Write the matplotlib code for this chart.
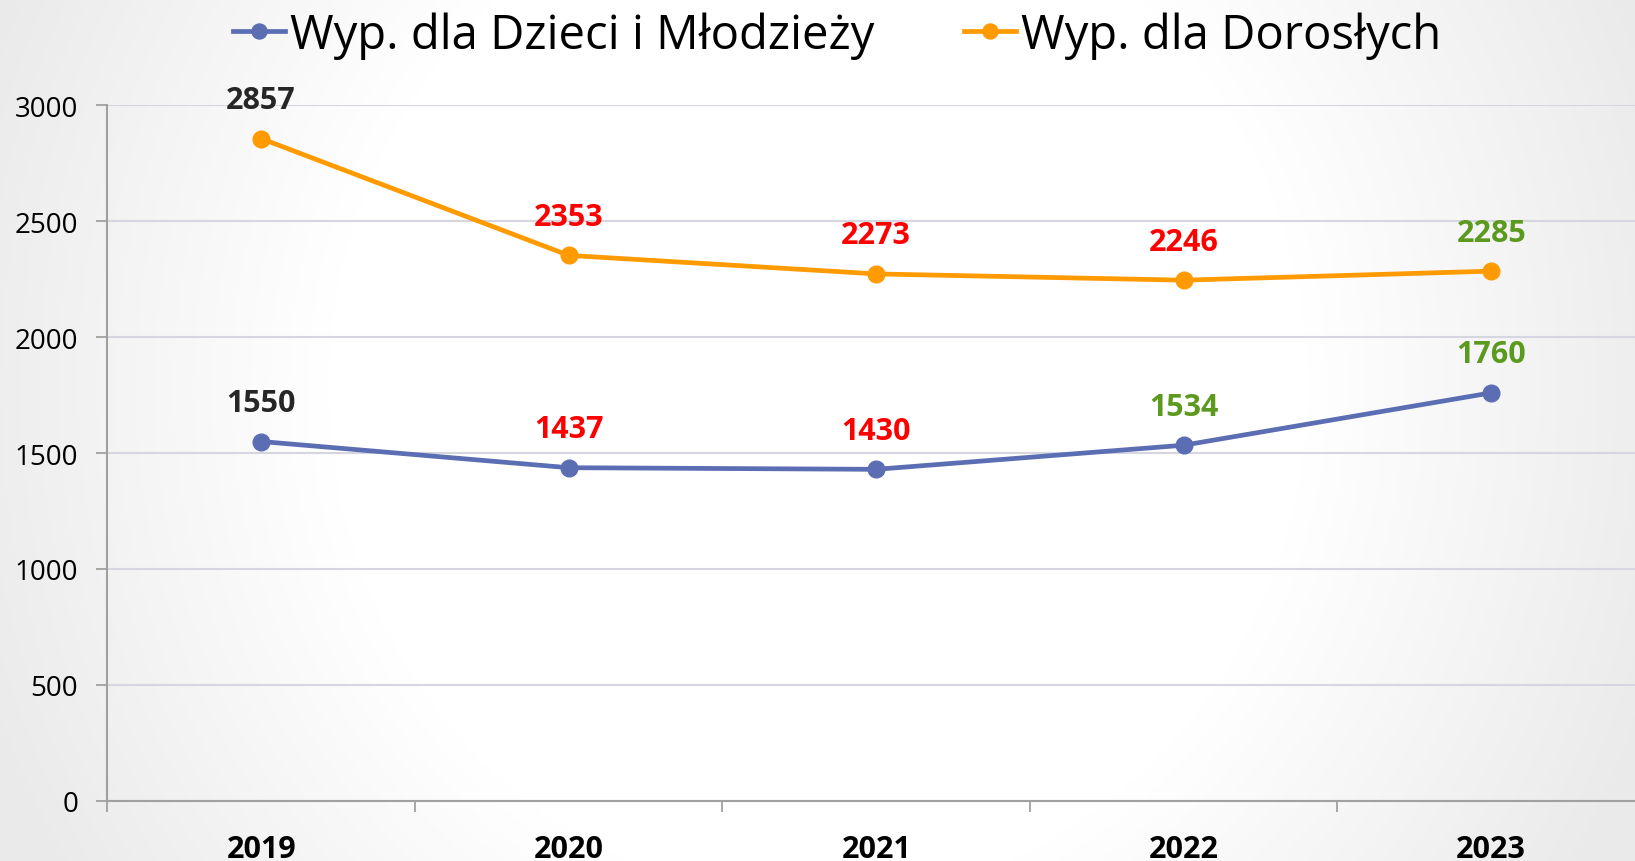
import numpy as np
import matplotlib
matplotlib.use('Agg')
import matplotlib.pyplot as plt

years = ['2019', '2020', '2021', '2022', '2023']
kids = [1550, 1437, 1430, 1534, 1760]
adults = [2857, 2353, 2273, 2246, 2285]
kids_label_colors = ['#262626', '#FF0000', '#FF0000', '#5B9A1F', '#5B9A1F']
adults_label_colors = ['#262626', '#FF0000', '#FF0000', '#FF0000', '#5B9A1F']
series_names = ['Wyp. dla Dzieci i Młodzieży', 'Wyp. dla Dorosłych']

plt.rcParams['font.family'] = ['Open Sans', 'DejaVu Sans']

fig = plt.figure(figsize=(16.35, 8.62), dpi=100)

# radial background: white in the middle, light gray towards the edges
bg = fig.add_axes([0, 0, 1, 1], zorder=0)
yy, xx = np.mgrid[-1:1:400j, -1:1:760j]
r = np.sqrt((xx / 1.0) ** 2 + ((yy + 0.1) / 2.0) ** 2)
shade = 1.0 - 0.075 * np.clip(r - 0.6, 0, None) / 0.45
bg.imshow(np.dstack([np.clip(shade, 0.92, 1)] * 3), aspect='auto',
          extent=[0, 1, 0, 1])
bg.axis('off')

ax = fig.add_axes([107.4 / 1635, 1 - 801.8 / 862, (1645 - 107.4) / 1635,
                   (801.8 - 106.4) / 862], zorder=1)
ax.patch.set_alpha(0)

x = np.arange(len(years))
l1, = ax.plot(x, kids, color='#5B6DB3', linewidth=3.4, marker='o',
              markersize=12, zorder=3)
l2, = ax.plot(x, adults, color='#FF9A00', linewidth=3.4, marker='o',
              markersize=12, zorder=3)

for xi, v, c in zip(x, kids, kids_label_colors):
    ax.annotate(f'{v}', (xi, v), xytext=(0, 17), textcoords='offset points',
                ha='center', va='bottom', fontsize=22, fontweight='bold',
                color=c)
for xi, v, c in zip(x, adults, adults_label_colors):
    ax.annotate(f'{v}', (xi, v), xytext=(0, 17), textcoords='offset points',
                ha='center', va='bottom', fontsize=22, fontweight='bold',
                color=c)

ax.set_xlim(-0.5, 4.5)
ax.set_ylim(0, 3000)
ax.set_yticks(np.arange(0, 3001, 500))
ax.grid(axis='y', color='#D6D6E0', linewidth=1.5)
ax.set_axisbelow(True)

ax.set_xticks(x)
ax.set_xticklabels(years, fontsize=22, fontweight='bold')
ax.tick_params(axis='x', which='major', length=0, pad=24)
ax.set_xticks(np.arange(-0.5, 4.6, 1), minor=True)
ax.tick_params(axis='x', which='minor', length=8, width=1.3, color='#A0A0A0')
ax.tick_params(axis='y', length=8, width=1.3, color='#A0A0A0', pad=13,
               labelsize=20)

for side in ['top', 'right']:
    ax.spines[side].set_visible(False)
for side in ['left', 'bottom']:
    ax.spines[side].set_color('#A0A0A0')
    ax.spines[side].set_linewidth(1.5)

fig.legend([l1, l2], series_names, loc='center',
           bbox_to_anchor=(0.512, 0.958), ncol=2, frameon=False,
           fontsize=34, handlelength=1.1, handletextpad=0.1,
           columnspacing=1.9, markerscale=0.9)

fig.savefig('out.png', dpi=100)
